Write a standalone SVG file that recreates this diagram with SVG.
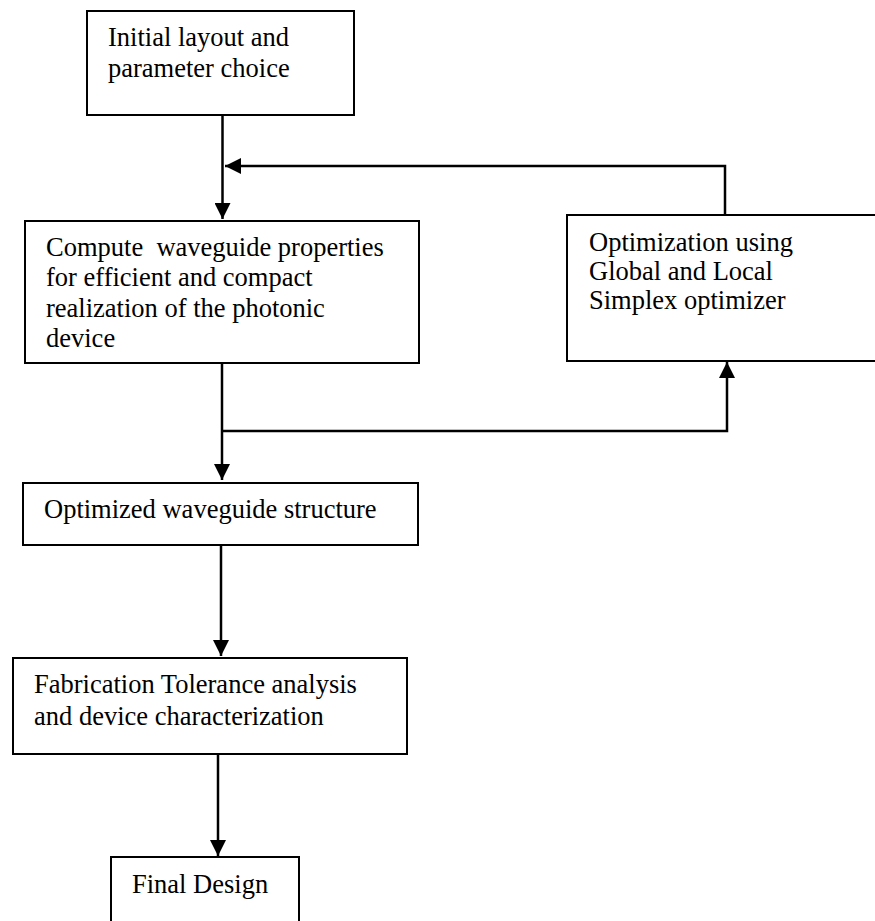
<svg xmlns="http://www.w3.org/2000/svg" width="875" height="921" viewBox="0 0 875 921">
<defs>
<style>
.box{fill:#fff;stroke:#000;stroke-width:2}
.t{font-family:"Liberation Serif","Times New Roman",serif;font-size:26.5px;fill:#000}
.ln{fill:none;stroke:#000;stroke-width:2.5}
</style>
<marker id="ah" viewBox="0 0 16 16" refX="16" refY="8" markerWidth="16" markerHeight="16" markerUnits="userSpaceOnUse" orient="auto">
<path d="M0,0 L16,8 L0,16 Z" fill="#000"/>
</marker>
</defs>
<rect width="875" height="921" fill="#fff"/>
<g id="connectors">
<line class="ln" x1="222.5" y1="115" x2="222.5" y2="219" marker-end="url(#ah)"/>
<polyline class="ln" points="725,215 725,166 225,166" marker-end="url(#ah)"/>
<line class="ln" x1="222" y1="364" x2="222" y2="480" marker-end="url(#ah)"/>
<polyline class="ln" points="222,431 727,431 727,362" marker-end="url(#ah)"/>
<line class="ln" x1="221" y1="545" x2="221" y2="656" marker-end="url(#ah)"/>
<line class="ln" x1="218" y1="754" x2="218" y2="856" marker-end="url(#ah)"/>
</g>
<g id="n1">
<rect class="box" x="87" y="11" width="267" height="104"/>
<text class="t" x="108" y="46">Initial layout and</text>
<text class="t" x="108" y="77">parameter choice</text>
</g>
<g id="n2">
<rect class="box" x="25" y="221" width="394" height="142"/>
<text class="t" x="46" y="256" xml:space="preserve">Compute  waveguide properties</text>
<text class="t" x="46" y="286">for efficient and compact</text>
<text class="t" x="46" y="317">realization of the photonic</text>
<text class="t" x="46" y="347">device</text>
</g>
<g id="n3">
<rect class="box" x="567" y="215" width="320" height="146"/>
<text class="t" x="589" y="251">Optimization using</text>
<text class="t" x="589" y="280">Global and Local</text>
<text class="t" x="589" y="309">Simplex optimizer</text>
</g>
<g id="n4">
<rect class="box" x="23" y="483" width="395" height="62"/>
<text class="t" x="44" y="518">Optimized waveguide structure</text>
</g>
<g id="n5">
<rect class="box" x="13" y="658" width="394" height="96"/>
<text class="t" x="34" y="693">Fabrication Tolerance analysis</text>
<text class="t" x="34" y="725">and device characterization</text>
</g>
<g id="n6">
<rect class="box" x="111" y="857" width="188" height="80"/>
<text class="t" x="132" y="893">Final Design</text>
</g>
</svg>
